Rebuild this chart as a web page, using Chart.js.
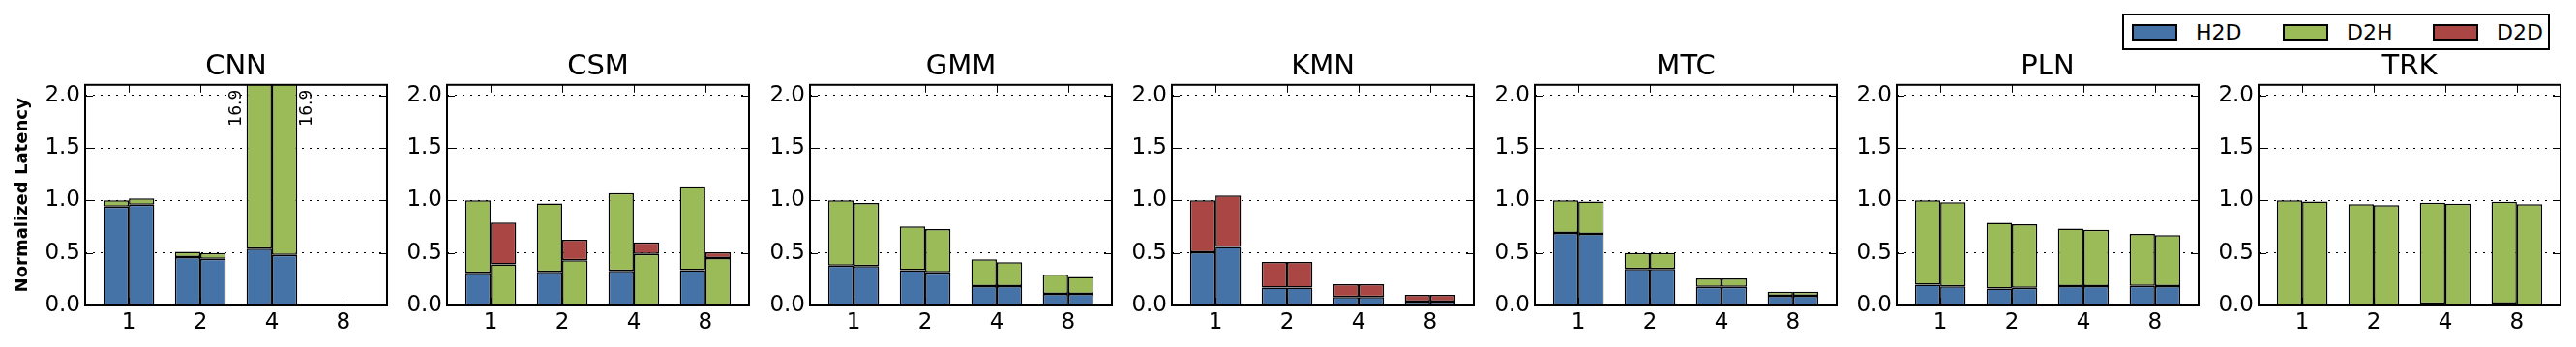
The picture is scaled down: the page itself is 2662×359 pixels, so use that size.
<!DOCTYPE html>
<html>
<head>
<meta charset="utf-8">
<script src="https://cdn.jsdelivr.net/npm/chart.js@4.4.1/dist/chart.umd.min.js"></script>
<style>
  body { margin: 0; background: #fff; }
  #wrap { position: relative; width: 2662px; height: 359px; overflow: hidden; font-family: 'DejaVu Sans'; }
  #wrap canvas { position: absolute; top: 0; }
  #legend { position: absolute; left: 2193px; top: 14px; width: 438px; height: 34px; border: 2px solid #000; background: #fff; }
  .item { position: absolute; top: 0; height: 34px; display: flex; align-items: center; font-size: 22px; color: #000; }
  .sw { width: 43px; height: 13px; border: 2px solid #000; margin-right: 19px; }
</style>
</head>
<body>
<div id="wrap">
  <div id="legend"></div>
</div>
<script>
const threads = ['1', '2', '4', '8'];
const apps = ['CNN', 'CSM', 'GMM', 'KMN', 'MTC', 'PLN', 'TRK'];
const series = ['H2D', 'D2H', 'D2D'];
const colors = ['#4572A7', '#9BBB59', '#AA4643'];
const yTicks = [0, 0.5, 1, 1.5, 2];

// left bar of each pair (one row per app, one value per thread count)
const h2dLeft = [
  [0.94, 0.46, 0.54, 0],
  [0.31, 0.32, 0.33, 0.335],
  [0.38, 0.335, 0.184, 0.111],
  [0.505, 0.17, 0.08, 0.037],
  [0.69, 0.347, 0.178, 0.092],
  [0.197, 0.16, 0.184, 0.187],
  [0, 0, 0.015, 0.018]
];
const d2hLeft = [
  [0.06, 0.05, 16.36, 0],
  [0.69, 0.65, 0.74, 0.80],
  [0.62, 0.418, 0.255, 0.184],
  [0, 0, 0, 0],
  [0.31, 0.153, 0.08, 0.04],
  [0.803, 0.626, 0.547, 0.495],
  [1.0, 0.965, 0.962, 0.968]
];
const d2dLeft = [
  [0, 0, 0, 0],
  [0, 0, 0, 0],
  [0, 0, 0, 0],
  [0.495, 0.245, 0.123, 0.064],
  [0, 0, 0, 0],
  [0, 0, 0, 0],
  [0, 0, 0, 0]
];

// right bar of each pair
const h2dRight = [
  [0.96, 0.445, 0.48, 0],
  [0, 0, 0, 0],
  [0.375, 0.316, 0.184, 0.111],
  [0.556, 0.17, 0.08, 0.037],
  [0.68, 0.347, 0.178, 0.092],
  [0.181, 0.169, 0.184, 0.184],
  [0, 0, 0, 0]
];
const d2hRight = [
  [0.06, 0.055, 16.42, 0],
  [0.39, 0.43, 0.49, 0.45],
  [0.60, 0.41, 0.228, 0.16],
  [0, 0, 0, 0],
  [0.31, 0.153, 0.08, 0.04],
  [0.802, 0.605, 0.535, 0.486],
  [0.989, 0.955, 0.968, 0.965]
];
const d2dRight = [
  [0, 0, 0, 0],
  [0.40, 0.195, 0.11, 0.055],
  [0, 0, 0, 0],
  [0.49, 0.245, 0.123, 0.064],
  [0, 0, 0, 0],
  [0, 0, 0, 0],
  [0, 0, 0, 0]
];

Chart.defaults.font.family = "'DejaVu Sans'";
Chart.defaults.color = '#000';

// box around the plot + inward tick marks
const frame = {
  id: 'frame',
  afterDraw(chart) {
    const { ctx, chartArea: ca, scales: { x, y } } = chart;
    ctx.save();
    ctx.strokeStyle = '#000';
    ctx.lineWidth = 1;
    ctx.beginPath();
    x.ticks.forEach(t => {
      const px = Math.round(x.getPixelForValue(t.value)) + 0.5;
      ctx.moveTo(px, ca.bottom); ctx.lineTo(px, ca.bottom - 8);
      ctx.moveTo(px, ca.top); ctx.lineTo(px, ca.top + 8);
    });
    y.ticks.forEach(t => {
      const py = Math.round(y.getPixelForValue(t.value)) + 0.5;
      ctx.moveTo(ca.left, py); ctx.lineTo(ca.left + 8, py);
      ctx.moveTo(ca.right, py); ctx.lineTo(ca.right - 8, py);
    });
    ctx.stroke();
    ctx.lineWidth = 2;
    ctx.strokeRect(ca.left, ca.top, ca.width, ca.height);
    ctx.restore();
  }
};

// value text next to bars that run off the top
const overflowLabels = {
  id: 'overflowLabels',
  afterDatasetsDraw(chart) {
    const { ctx, chartArea: ca, scales: { y } } = chart;
    const stacks = {};
    chart.data.datasets.forEach((ds, d) => {
      const meta = chart.getDatasetMeta(d);
      ds.data.forEach((p, i) => {
        const key = ds.stack + ':' + i;
        const s = stacks[key] || (stacks[key] = { total: 0, bar: null, side: ds.stack === 'bar0' ? -1 : 1 });
        s.total += p.y;
        s.bar = meta.data[i];
      });
    });
    Object.values(stacks).forEach(s => {
      if (s.total <= y.max) return;
      ctx.save();
      ctx.translate(s.bar.x + s.side * (s.bar.width / 2 + 10.5), ca.top + 5);
      ctx.rotate(-Math.PI / 2);
      ctx.font = "17px 'DejaVu Sans'";
      ctx.fillStyle = '#000';
      ctx.textAlign = 'right';
      ctx.textBaseline = 'middle';
      ctx.fillText(s.total.toFixed(1), 0, 0);
      ctx.restore();
    });
  }
};

const wrap = document.getElementById('wrap');
const pairs = [[h2dLeft, d2hLeft, d2dLeft], [h2dRight, d2hRight, d2dRight]];

apps.forEach((app, a) => {
  const axisW = a === 0 ? 88 : 62;
  const plotW = 312;
  const canvas = document.createElement('canvas');
  canvas.width = plotW + 2 * axisW;
  canvas.height = 359;
  canvas.style.width = canvas.width + 'px';
  canvas.style.height = '359px';
  canvas.style.left = (Math.round(88 + a * 374.4) - axisW) + 'px';
  wrap.appendChild(canvas);

  const datasets = [];
  pairs.forEach((row, s) => row.forEach((arr, k) => datasets.push({
    label: series[k],
    stack: 'bar' + s,
    data: arr[a].map((v, i) => ({ x: i, y: v })),
    backgroundColor: colors[k],
    borderColor: '#000',
    borderWidth: 1.5,
    borderSkipped: false,
    categoryPercentage: 0.71,
    barPercentage: 1
  })));

  new Chart(canvas, {
    type: 'bar',
    data: { datasets },
    options: {
      responsive: false,
      animation: false,
      layout: { padding: 0 },
      plugins: {
        legend: { display: false },
        tooltip: { enabled: false },
        title: {
          display: true, text: app, color: '#000',
          font: { size: 29, weight: 'normal' },
          padding: { top: 52, bottom: 1 }
        }
      },
      scales: {
        x: {
          type: 'linear', stacked: true, offset: false, min: -0.61, max: 3.61,
          grid: { display: false, drawTicks: false, offset: false },
          border: { display: false },
          afterBuildTicks: sc => { sc.ticks = threads.map((t, i) => ({ value: i })); },
          afterFit: sc => { sc.height = 43; },
          ticks: { callback: v => threads[v], font: { size: 23 }, color: '#000', padding: 4, maxRotation: 0, autoSkip: false }
        },
        y: {
          stacked: true, min: 0, max: 2.1,
          afterBuildTicks: sc => { sc.ticks = yTicks.map(v => ({ value: v })); },
          afterFit: sc => { sc.width = axisW; },
          grid: { color: '#000', lineWidth: 1, drawTicks: false },
          border: { display: false, dash: [2, 6] },
          ticks: { callback: v => v.toFixed(1), font: { size: 23 }, color: '#000', padding: 5 },
          title: {
            display: a === 0, text: 'Normalized Latency', color: '#000',
            font: { size: 18, weight: 'bold' },
            padding: { top: 13, bottom: 0 }
          }
        },
        // empty right-hand axis so the title centres over the plot
        yPad: {
          position: 'right', grid: { display: false, drawTicks: false }, border: { display: false },
          ticks: { display: false },
          afterFit: sc => { sc.width = axisW; }
        }
      }
    },
    plugins: [frame, overflowLabels]
  });
});

// legend
const legend = document.getElementById('legend');
const legendLeft = [8, 164, 319];
series.forEach((name, k) => {
  const item = document.createElement('div');
  item.className = 'item';
  item.style.left = legendLeft[k] + 'px';
  item.innerHTML = '<span class="sw" style="background:' + colors[k] + '"></span>' + name;
  legend.appendChild(item);
});
</script>
</body>
</html>
